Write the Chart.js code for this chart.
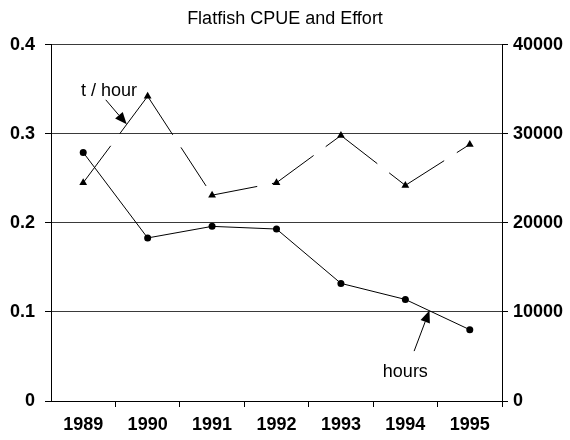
<!DOCTYPE html>
<html>
<head>
<meta charset="utf-8">
<script src="https://cdn.jsdelivr.net/npm/chart.js@4"></script>
<style>
  body { margin: 0; background: #fff; }
</style>
</head>
<body>
<canvas id="myChart" width="570" height="440"></canvas>
<script>
// chart data
const years = ['1989', '1990', '1991', '1992', '1993', '1994', '1995'];
const tPerHour = [0.245, 0.342, 0.231, 0.245, 0.298, 0.242, 0.288];
const hours = [27900, 18300, 19600, 19300, 13200, 11400, 8000];
const leftTicks = [0, 0.1, 0.2, 0.3, 0.4];
const rightTicks = [0, 10000, 20000, 30000, 40000];

// labels with arrows, placed in data units (x = category index, y = left axis value)
const notes = [
  { text: 't / hour', tx: 0.40, ty: 0.348, from: [0.35, 0.338], to: [0.675, 0.3105] },
  { text: 'hours', tx: 5.0, ty: 0.032, from: [5.136, 0.056], to: [5.374, 0.1016] }
];

const FONT = "'Liberation Sans', Arial, sans-serif";

const notesPlugin = {
  id: 'notes',
  afterDatasetsDraw(chart) {
    const ctx = chart.ctx;
    const x = chart.scales.x, y = chart.scales.y;
    ctx.save();
    ctx.fillStyle = '#000';
    ctx.strokeStyle = '#000';
    ctx.lineWidth = 1;
    ctx.font = '18px ' + FONT;
    ctx.textAlign = 'center';
    ctx.textBaseline = 'middle';
    notes.forEach(n => {
      ctx.fillText(n.text, x.getPixelForValue(n.tx), y.getPixelForValue(n.ty));
      const x0 = x.getPixelForValue(n.from[0]), y0 = y.getPixelForValue(n.from[1]);
      const x1 = x.getPixelForValue(n.to[0]), y1 = y.getPixelForValue(n.to[1]);
      const a = Math.atan2(y1 - y0, x1 - x0);
      const len = 12, half = 5;
      const bx = x1 - len * Math.cos(a), by = y1 - len * Math.sin(a);
      ctx.beginPath();
      ctx.moveTo(x0, y0);
      ctx.lineTo(bx, by);
      ctx.stroke();
      ctx.beginPath();
      ctx.moveTo(x1, y1);
      ctx.lineTo(bx + half * Math.sin(a), by - half * Math.cos(a));
      ctx.lineTo(bx - half * Math.sin(a), by + half * Math.cos(a));
      ctx.closePath();
      ctx.fill();
    });
    ctx.restore();
  }
};

const data = {
  labels: years,
  datasets: [
    {
      label: 'hours',
      data: hours,
      yAxisID: 'y1',
      borderColor: '#000',
      backgroundColor: '#000',
      borderWidth: 1,
      pointStyle: 'circle',
      pointRadius: 3.5,
      pointBorderWidth: 0,
      tension: 0
    },
    {
      label: 't / hour',
      data: tPerHour,
      yAxisID: 'y',
      borderColor: '#000',
      backgroundColor: '#000',
      borderWidth: 1,
      borderDash: [46, 15],
      // restart the dash pattern on every segment
      segment: { borderDashOffset: c => c.p0DataIndex * 0.001 },
      pointStyle: 'triangle',
      pointRadius: 4.5,
      pointBorderWidth: 0,
      tension: 0
    }
  ]
};

const tickFont = { family: FONT, size: 18, weight: 'bold' };

const config = {
  type: 'line',
  data: data,
  options: {
    responsive: false,
    animation: false,
    layout: { padding: 0 },
    plugins: {
      legend: { display: false },
      tooltip: { enabled: false },
      title: {
        display: true,
        text: 'Flatfish CPUE and Effort',
        color: '#000',
        font: { family: FONT, size: 18, weight: 'normal' },
        padding: { top: 8, bottom: 15 }
      }
    },
    scales: {
      x: {
        offset: true,
        grid: {
          offset: true,
          drawOnChartArea: false,
          tickLength: 6,
          color: c => (c.index === 0 || c.index === years.length) ? 'rgba(0,0,0,0)' : '#000'
        },
        border: { display: true, color: '#000' },
        ticks: { color: '#000', font: tickFont, padding: 7, maxRotation: 0 },
        afterFit: s => { s.height = 39; }
      },
      y: {
        position: 'left',
        min: 0,
        max: 0.4,
        afterBuildTicks: s => { s.ticks = leftTicks.map(v => ({ value: v })); },
        grid: { color: '#3a3a3a', tickColor: '#000', tickLength: 6 },
        border: { display: true, color: '#000' },
        ticks: { color: '#000', font: tickFont, padding: 10, callback: v => String(v) },
        afterFit: s => { s.width = 51; }
      },
      y1: {
        position: 'right',
        min: 0,
        max: 40000,
        afterBuildTicks: s => { s.ticks = rightTicks.map(v => ({ value: v })); },
        grid: { drawOnChartArea: false, color: '#000', tickLength: 6 },
        border: { display: true, color: '#000' },
        ticks: { color: '#000', font: tickFont, padding: 5, callback: v => String(v) },
        afterFit: s => { s.width = 68; }
      }
    }
  },
  plugins: [notesPlugin]
};

var myChart = new Chart(document.getElementById('myChart'), config);
</script>
</body>
</html>
